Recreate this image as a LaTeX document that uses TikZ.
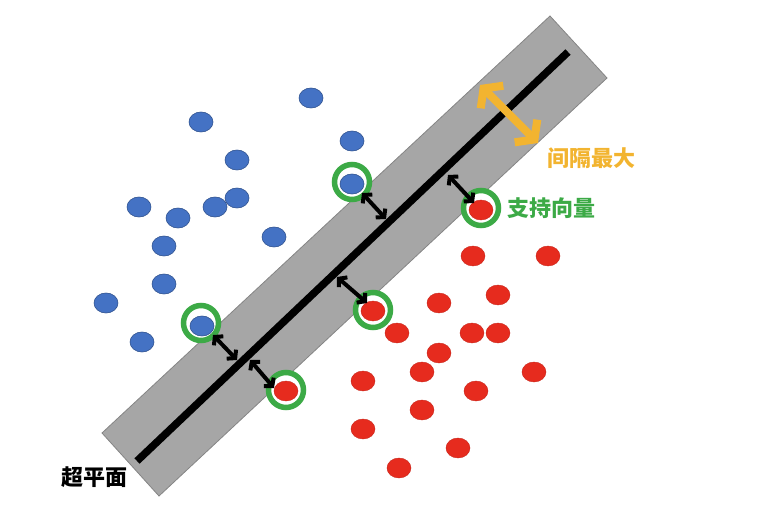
\documentclass[tikz,border=0pt]{standalone}
\usepackage{fontspec}
\newfontfamily\cjk{Noto Sans CJK SC}
\usetikzlibrary{shapes.geometric,arrows.meta}
\definecolor{bluedot}{HTML}{4472C4}
\definecolor{bluedraw}{HTML}{2F528F}
\definecolor{reddot}{HTML}{E62B1E}
\definecolor{reddraw}{HTML}{C8251A}
\definecolor{ringgreen}{HTML}{3CAA46}
\definecolor{gold}{HTML}{F2B430}
\definecolor{bandgray}{HTML}{A6A6A6}
\definecolor{bandedge}{HTML}{858585}
\tikzset{
  bdot/.style={ellipse,fill=bluedot,draw=bluedraw,line width=0.6pt,minimum width=24pt,minimum height=20pt,inner sep=0pt},
  rdot/.style={ellipse,fill=reddot,draw=reddraw,line width=0.4pt,minimum width=24pt,minimum height=20pt,inner sep=0pt},
  ring/.style={circle,draw=ringgreen,fill=white,line width=5.5pt,minimum size=35pt,inner sep=0pt},
  dblarrow/.style={line width=4pt,{Straight Barb[length=5.5pt,width=13pt]}-{Straight Barb[length=5.5pt,width=13pt]}},
  goldarrow/.style={draw=gold,line width=8pt,{Straight Barb[length=12pt,width=32pt]}-{Straight Barb[length=12pt,width=32pt]}},
  lbl/.style={font=\cjk\bfseries\fontsize{22pt}{24pt}\selectfont,inner sep=0pt}
}
\begin{document}
\begin{tikzpicture}[x=1pt,y=-1pt]
\useasboundingbox (0,0) rectangle (782,524);
% band
\coordinate (c1) at (102,433);
\coordinate (c2) at (550,16);
\coordinate (c3) at (607,78);
\coordinate (c4) at (159,496);
\draw[fill=bandgray,draw=bandedge,line width=0.8pt] (c1) -- (c2) -- (c3) -- (c4) -- cycle;
% hyperplane
\coordinate (h1) at (137,461);
\coordinate (h2) at (568,52);
\draw[line width=7.5pt] (h1) -- (h2);
% rings
\node[ring] (g1) at (352,182) {};
\node[ring] (g2) at (481,208) {};
\node[ring] (g3) at (201,323) {};
\node[ring] (g4) at (373,310) {};
\node[ring] (g5) at (286,390) {};
% blue dots
\node[bdot] (b1) at (311,98) {};
\node[bdot] (b2) at (201,122) {};
\node[bdot] (b3) at (352,141) {};
\node[bdot] (b4) at (237,160) {};
\node[bdot] (b5) at (352,184) {};
\node[bdot] (b6) at (139,207) {};
\node[bdot] (b7) at (178,218) {};
\node[bdot] (b8) at (215,207) {};
\node[bdot] (b9) at (237,198) {};
\node[bdot] (b10) at (274,237) {};
\node[bdot] (b11) at (164,246) {};
\node[bdot] (b12) at (164,284) {};
\node[bdot] (b13) at (106,303) {};
\node[bdot] (b14) at (202,326) {};
\node[bdot] (b15) at (142,342) {};
% red dots
\node[rdot] (r1) at (481,210) {};
\node[rdot] (r2) at (473,256) {};
\node[rdot] (r3) at (548,256) {};
\node[rdot] (r4) at (498,295) {};
\node[rdot] (r5) at (439,303) {};
\node[rdot] (r6) at (373,311) {};
\node[rdot] (r7) at (397,333) {};
\node[rdot] (r8) at (472,333) {};
\node[rdot] (r9) at (498,333) {};
\node[rdot] (r10) at (439,353) {};
\node[rdot] (r11) at (422,372) {};
\node[rdot] (r12) at (363,381) {};
\node[rdot] (r13) at (534,372) {};
\node[rdot] (r14) at (476,391) {};
\node[rdot] (r15) at (422,410) {};
\node[rdot] (r16) at (363,429) {};
\node[rdot] (r17) at (458,448) {};
\node[rdot] (r18) at (399,468) {};
\node[rdot] (r19) at (286,391) {};
% margin arrows
\coordinate (a1s) at (213,335); \coordinate (a1e) at (237,360);
\coordinate (a2s) at (250,360); \coordinate (a2e) at (274,388);
\coordinate (a3s) at (362,193); \coordinate (a3e) at (386,219);
\coordinate (a4s) at (337,277); \coordinate (a4e) at (367,303);
\coordinate (a5s) at (448,175); \coordinate (a5e) at (474,203);
\draw[dblarrow] (a1s) -- (a1e);
\draw[dblarrow] (a2s) -- (a2e);
\draw[dblarrow] (a3s) -- (a3e);
\draw[dblarrow] (a4s) -- (a4e);
\draw[dblarrow] (a5s) -- (a5e);
% gold arrow
\coordinate (o1) at (480,85);
\coordinate (o2) at (538,143);
\draw[goldarrow] (o1) -- (o2);
% labels
\node[lbl,text=gold,anchor=west] (t1) at (547,158) {间隔最大};
\node[lbl,text=ringgreen,anchor=west] (t2) at (507,208) {支持向量};
\node[lbl,text=black,anchor=west] (t3) at (61,477) {超平面};
\end{tikzpicture}
\end{document}
